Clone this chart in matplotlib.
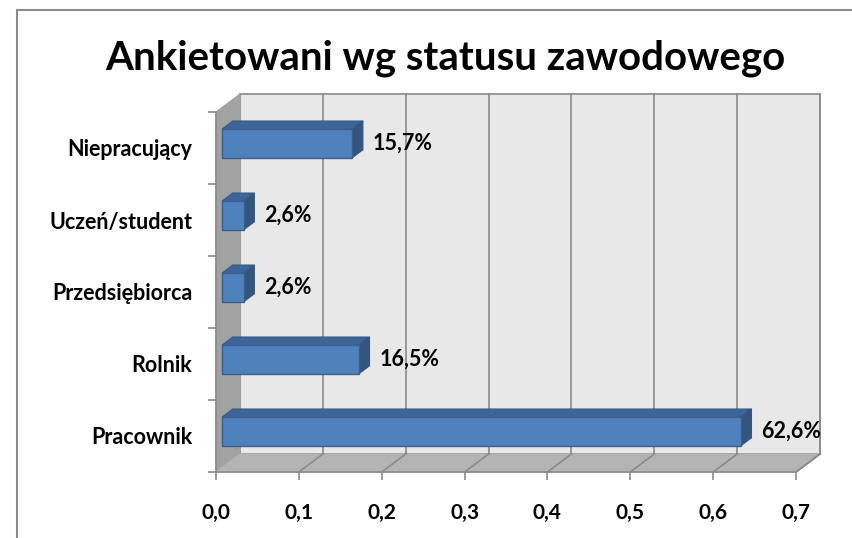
import matplotlib.pyplot as plt
from matplotlib.patches import Polygon, Rectangle

# dane z wykresu
categories = ['Pracownik', 'Rolnik', 'Przedsiębiorca', 'Uczeń/student', 'Niepracujący']
shares = [0.626, 0.165, 0.026, 0.026, 0.157]
share_labels = ['62,6%', '16,5%', '2,6%', '2,6%', '15,7%']
x_ticks = [0.0, 0.1, 0.2, 0.3, 0.4, 0.5, 0.6, 0.7]
x_tick_labels = ['0,0', '0,1', '0,2', '0,3', '0,4', '0,5', '0,6', '0,7']
title = 'Ankietowani wg statusu zawodowego'

plt.rcParams['font.family'] = ['Lato', 'DejaVu Sans']

W, H = 852, 538
fig = plt.figure(figsize=(W / 100, H / 100), dpi=100)

# ramka wykresu
fig.patches.append(Rectangle((17 / W, -0.1), 1.2, 1 - 10 / H + 0.1, transform=fig.transFigure,
                             fill=False, edgecolor='#8c8c8c', lw=1.5))

ax = fig.add_axes([216 / W, (H - 472) / H, 580 / W, 360 / H])
xmax = 0.7
n = len(categories)
ax.set_xlim(0, xmax)
ax.set_ylim(0, n)

# glebokosc 3d w jednostkach danych
DX = 24 / 828.6
DY = 18 / 72.0

grid_c = '#8a8a8a'
# tylna sciana
ax.add_patch(Polygon([(DX, DY), (xmax + DX, DY), (xmax + DX, n + DY), (DX, n + DY)],
                     closed=True, facecolor='#e8e8e8', edgecolor=grid_c, lw=1.2,
                     clip_on=False, zorder=1))
# lewa sciana
ax.add_patch(Polygon([(0, 0), (DX, DY), (DX, n + DY), (0, n)], closed=True,
                     facecolor='#a2a2a2', edgecolor='#a2a2a2', lw=0.8, clip_on=False, zorder=2))
# podloga
ax.add_patch(Polygon([(0, 0), (xmax, 0), (xmax + DX, DY), (DX, DY)], closed=True,
                     facecolor='#b4b4b4', edgecolor='#b4b4b4', lw=0.8, clip_on=False, zorder=2))

for xv in x_ticks[1:]:
    ax.plot([xv + DX, xv + DX], [DY, n + DY], color=grid_c, lw=1.2, clip_on=False, zorder=2)
    ax.plot([xv, xv + DX], [0, DY], color=grid_c, lw=1.2, clip_on=False, zorder=3)
ax.plot([xmax, xmax + DX], [0, DY], color=grid_c, lw=1.2, clip_on=False, zorder=3)

# slupki 3d
f, b = 0.25, 0.7
hh = 0.2
for i, v in enumerate(shares):
    c = i + 0.5
    y0, y1 = c - hh, c + hh
    top = [(f * DX, y1 + f * DY), (v + f * DX, y1 + f * DY), (v + b * DX, y1 + b * DY), (b * DX, y1 + b * DY)]
    side = [(v + f * DX, y0 + f * DY), (v + b * DX, y0 + b * DY), (v + b * DX, y1 + b * DY), (v + f * DX, y1 + f * DY)]
    front = [(f * DX, y0 + f * DY), (v + f * DX, y0 + f * DY), (v + f * DX, y1 + f * DY), (f * DX, y1 + f * DY)]
    ax.add_patch(Polygon(top, closed=True, facecolor='#3e6598', edgecolor='#385d8a', lw=0.8, zorder=5, clip_on=False))
    ax.add_patch(Polygon(side, closed=True, facecolor='#34557f', edgecolor='#34557f', lw=0.8, zorder=5, clip_on=False))
    ax.add_patch(Polygon(front, closed=True, facecolor='#4f81bd', edgecolor='#3a5f8c', lw=1.0, zorder=6, clip_on=False))
    ax.annotate(share_labels[i], (v + b * DX, c + f * DY), xytext=(7, 0), textcoords='offset points',
                ha='left', va='center', fontsize=15.5, fontweight='bold', zorder=7, annotation_clip=False)

# osie
for s in ['top', 'right']:
    ax.spines[s].set_visible(False)
for s in ['left', 'bottom']:
    ax.spines[s].set_color(grid_c)
    ax.spines[s].set_linewidth(1.2)
    ax.spines[s].set_zorder(4)

ax.set_xticks(x_ticks)
ax.set_xticklabels(x_tick_labels, fontsize=15, fontweight='bold')
ax.tick_params(axis='x', length=6, width=1.2, color=grid_c, pad=16)

ax.set_yticks(range(n + 1))
ax.set_yticklabels([])
ax.set_yticks([i + 0.5 for i in range(n)], minor=True)
ax.set_yticklabels(categories, minor=True, fontsize=15.5, fontweight='bold')
ax.tick_params(axis='y', which='major', length=6, width=1.2, color=grid_c)
ax.tick_params(axis='y', which='minor', length=0, pad=17)
ax.patch.set_visible(False)

fig.text(445 / W, 1 - 58 / H, title, ha='center', va='center', fontsize=29, fontweight='bold')

fig.savefig('out.png', dpi=100)
